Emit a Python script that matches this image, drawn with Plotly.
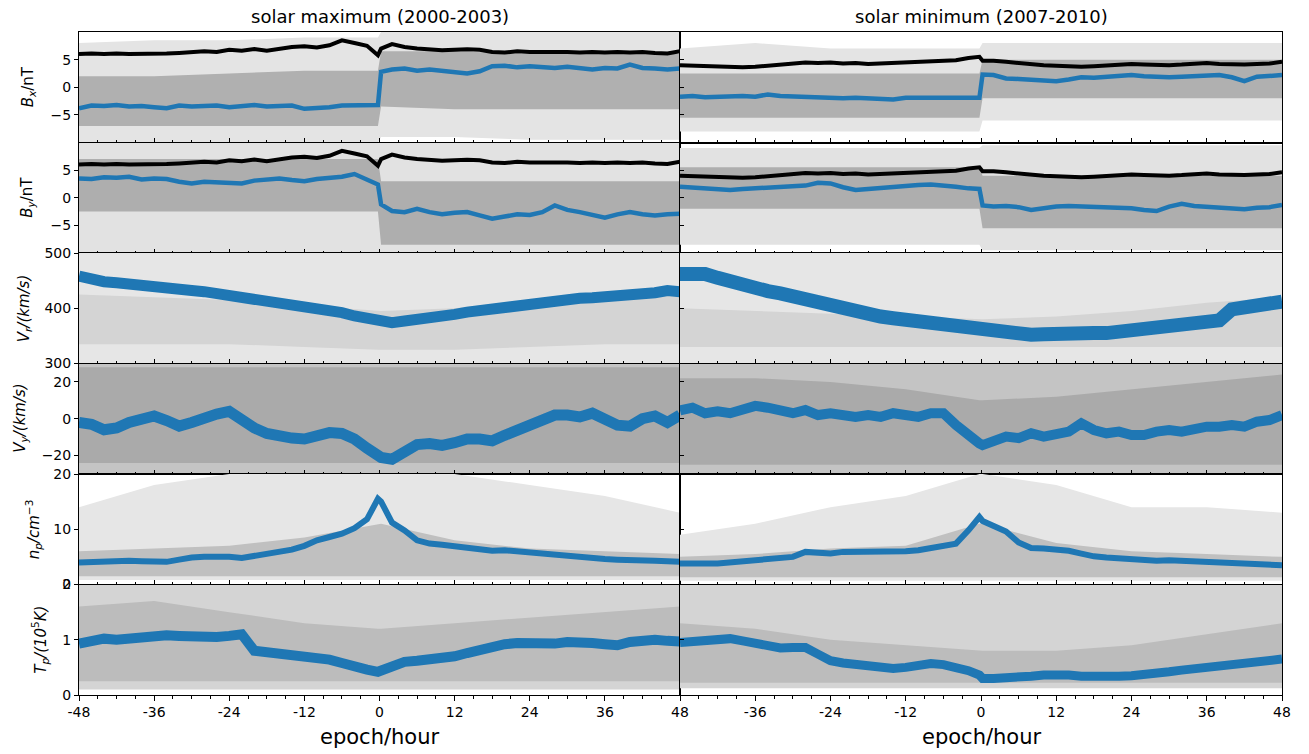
import plotly.graph_objects as go

# ---------------- data ----------------
EPOCH = list(range(-48, -1, 2)) + [-0.25, 0.25] + list(range(2, 49, 2))
BAND_T = [-48, -36, -24, -12, -0.25, 0.25, 12, 24, 36, 48]
X_MAJOR = [-48, -36, -24, -12, 0, 12, 24, 36, 48]
X_LABELS = ["-48", "-36", "-24", "-12", "0", "12", "24", "36", "48"]

# solar maximum (2000-2003)
BMAG_MAX = [6.0, 6.1, 6.0, 6.1, 6.0, 6.0, 6.0, 6.1, 6.2, 6.3, 6.5, 6.4,
            6.8, 6.6, 6.9, 6.6, 6.9, 7.3, 7.4, 7.2, 7.6, 8.5, 8.0, 7.5,
            5.8, 7.0,
            7.8, 7.3, 7.0, 6.8, 6.7, 6.8, 6.9, 6.8, 6.4, 6.3, 6.5, 6.4,
            6.4, 6.5, 6.4, 6.3, 6.4, 6.3, 6.4, 6.3, 6.4, 6.2, 6.1, 6.5]
BX_MAX = [-3.8, -3.3, -3.4, -3.2, -3.5, -3.4, -3.6, -3.8, -3.3, -3.5, -3.4, -3.3,
          -3.6, -3.4, -3.2, -3.5, -3.4, -3.3, -3.9, -3.8, -3.6, -3.3, -3.2, -3.3,
          -3.2, 2.8,
          3.2, 3.4, 3.0, 3.2, 2.9, 2.6, 2.5, 2.9, 3.8, 3.9, 3.6, 3.8,
          3.6, 3.5, 3.7, 3.4, 3.2, 3.5, 3.4, 4.1, 3.5, 3.4, 3.2, 3.4]
BY_MAX = [3.5, 3.4, 3.7, 3.6, 3.8, 3.3, 3.5, 3.4, 2.9, 2.6, 2.9, 2.8,
          2.9, 2.6, 3.1, 3.4, 3.5, 3.2, 3.0, 3.4, 3.6, 3.8, 4.3, 3.4,
          2.4, -1.2,
          -2.4, -2.6, -2.0, -2.6, -3.0, -2.7, -2.6, -3.2, -3.8, -3.4, -3.0, -3.1,
          -2.6, -1.4, -2.2, -2.6, -3.0, -3.6, -3.0, -2.6, -3.0, -3.2, -3.0, -2.9]
VR_MAX = [458, 452, 448, 446, 443, 441, 440, 437, 433, 432, 430, 427,
          424, 421, 418, 414, 411, 408, 404, 399, 396, 392, 386, 381,
          377, 375,
          374, 377, 379, 382, 385, 389, 393, 396, 398, 401, 405, 409,
          413, 415, 417, 418, 419, 420, 421, 423, 426, 428, 432, 430]
VY_MAX = [-2, -3, -6, -5, -2, 0, 1.5, -1, -4, -2, 1, 2.5,
          4, -1, -5, -8, -10, -10.5, -11, -9, -7.5, -8, -11, -16,
          -20, -21,
          -22, -18, -14, -13.5, -14.5, -13, -11, -11, -12, -9, -6, -3,
          0, 2, 2, 1, 3, 0, -3.5, -4, 0, 1.5, -2, 2]
NP_MAX = [4.0, 4.1, 4.2, 4.2, 4.3, 4.2, 4.2, 4.1, 4.5, 4.9, 5.0, 5.1,
          5.0, 4.8, 5.2, 5.6, 5.9, 6.3, 7.0, 8.0, 8.6, 9.2, 10.2, 11.8,
          15.5, 15.0,
          11.2, 9.8, 8.0, 7.4, 7.2, 6.9, 6.6, 6.3, 6.1, 6.2, 6.0, 5.6,
          5.4, 5.2, 5.0, 4.9, 4.8, 4.6, 4.5, 4.5, 4.4, 4.3, 4.2, 4.1]
TP_MAX = [0.93, 0.98, 1.02, 1.0, 1.03, 1.02, 1.08, 1.08, 1.07, 1.05, 1.04, 1.05,
          1.07, 1.1, 0.8, 0.78, 0.76, 0.74, 0.72, 0.68, 0.64, 0.58, 0.5, 0.46,
          0.42, 0.44,
          0.55, 0.6, 0.62, 0.64, 0.67, 0.7, 0.76, 0.82, 0.88, 0.92, 0.94, 0.93,
          0.9, 0.93, 0.96, 0.97, 0.94, 0.92, 0.9, 0.96, 0.99, 1.0, 0.98, 0.97]

# solar minimum (2007-2010)
BMAG_MIN = [4.0, 3.9, 3.8, 3.8, 3.7, 3.6, 3.7, 3.9, 4.0, 4.2, 4.5, 4.4,
            4.5, 4.3, 4.4, 4.2, 4.3, 4.4, 4.5, 4.5, 4.7, 4.8, 4.9, 5.3,
            5.5, 4.8,
            4.8, 4.6, 4.4, 4.1, 4.0, 3.9, 3.8, 3.7, 3.8, 3.9, 4.0, 4.2,
            4.1, 4.0, 4.0, 4.1, 4.3, 4.4, 4.2, 4.1, 4.1, 4.2, 4.3, 4.6]
BX_MIN = [-1.7, -1.6, -1.8, -1.7, -1.7, -1.6, -1.7, -1.3, -1.6, -1.7, -1.8, -1.7,
          -1.8, -2.0, -1.9, -2.0, -2.1, -2.2, -1.9, -2.0, -1.9, -1.9, -1.8, -1.9,
          -1.9, 2.3,
          2.2, 1.6, 1.5, 1.4, 1.2, 1.1, 1.4, 1.8, 1.7, 1.9, 2.1, 2.2,
          2.0, 1.8, 1.8, 1.9, 2.0, 2.1, 2.2, 1.8, 1.1, 1.9, 2.0, 2.2]
BY_MIN = [2.0, 1.9, 1.8, 1.7, 1.4, 1.6, 1.7, 1.7, 1.8, 1.9, 2.2, 2.7,
          2.6, 1.9, 1.4, 1.6, 1.8, 2.1, 2.2, 2.3, 2.4, 2.3, 2.0, 1.7,
          1.6, -1.4,
          -1.6, -1.5, -1.7, -2.2, -1.8, -1.6, -1.5, -1.6, -1.7, -1.8, -1.7, -1.9,
          -2.2, -2.4, -1.6, -1.1, -1.5, -1.6, -1.8, -2.0, -2.1, -1.8, -1.7, -1.3]
VR_MIN = [462, 465, 462, 455, 448, 442, 436, 431, 427, 421, 415, 409,
          403, 398, 394, 389, 385, 382, 379, 376, 373, 370, 368, 364,
          361, 360,
          357, 353, 351, 352, 353, 355, 356, 354, 355, 355, 357, 360,
          362, 364, 367, 372, 372, 370, 378, 398, 403, 406, 409, 412]
VY_MIN = [4.5, 6, 3, 4, 3, 4.7, 7, 6, 4, 3, 4.7, 2,
          3, 2, 1, 2, 1, 3, 2, 1, 3, 3, -3.4, -9.7,
          -13.4, -14.3,
          -12.4, -9.7, -10.5, -7.9, -9.7, -7.9, -7, -2.5, -6.1, -7.9, -7, -8.8,
          -8.8, -7, -6.1, -7, -5.2, -4.3, -4.3, -3.4, -4.3, -1.6, -0.7, 2]
NP_MIN = [3.8, 3.7, 3.8, 3.8, 4.0, 4.1, 4.4, 4.6, 4.8, 5.0, 5.9, 5.8,
          5.6, 5.9, 5.9, 5.9, 6.0, 5.9, 6.0, 6.2, 6.6, 7.0, 7.4, 9.8,
          12.2, 11.5,
          10.6, 9.6, 7.6, 6.6, 6.5, 6.3, 6.1, 5.6, 5.1, 4.9, 4.7, 4.5,
          4.4, 4.3, 4.4, 4.3, 4.2, 4.1, 4.1, 4.0, 3.9, 3.8, 3.7, 3.5]
TP_MIN = [0.95, 0.97, 1.0, 1.02, 1.02, 0.98, 0.94, 0.9, 0.85, 0.86, 0.86, 0.74,
          0.62, 0.58, 0.55, 0.52, 0.49, 0.48, 0.5, 0.53, 0.57, 0.55, 0.5, 0.44,
          0.36, 0.3,
          0.3, 0.3, 0.32, 0.34, 0.36, 0.38, 0.36, 0.34, 0.33, 0.33, 0.34, 0.35,
          0.36, 0.38, 0.42, 0.45, 0.48, 0.5, 0.53, 0.56, 0.58, 0.6, 0.62, 0.65]

# spread of the individual events (grey envelopes) on BAND_T
BX_MAX_OUT_LO = [-10, -10, -10, -10, -10, -9, -9, -9.5, -9.5, -9.5]
BX_MAX_OUT_HI = [8, 8.5, 8.5, 9, 9, 10, 10, 10, 10, 10]
BX_MAX_CORE_LO = [-7, -7, -7, -7, -7, -3.5, -4, -4, -4, -4]
BX_MAX_CORE_HI = [2, 2, 2.5, 3, 3, 6.5, 6.5, 6, 6, 6]
BY_MAX_OUT_LO = [-10, -10, -10, -10, -10, -10, -10, -10, -10, -10]
BY_MAX_OUT_HI = [10, 10, 10, 10, 10, 10, 10, 10, 10, 10]
BY_MAX_CORE_LO = [-2.5, -2.5, -2.5, -2.5, -2.5, -8.5, -8.5, -8.5, -8.5, -8.5]
BY_MAX_CORE_HI = [7, 7, 7, 7, 7, 3, 3, 3, 3, 3]
VR_MAX_OUT_LO = [300, 300, 300, 300, 300, 300, 300, 300, 300, 300]
VR_MAX_OUT_HI = [500, 500, 500, 500, 500, 500, 500, 500, 500, 500]
VR_MAX_CORE_LO = [335, 335, 335, 330, 325, 325, 325, 330, 335, 335]
VR_MAX_CORE_HI = [425, 420, 415, 405, 395, 395, 400, 415, 425, 430]
VY_MAX_OUT_LO = [-30, -30, -30, -30, -30, -30, -30, -30, -30, -30]
VY_MAX_OUT_HI = [30, 30, 30, 30, 30, 30, 30, 30, 30, 30]
VY_MAX_CORE_LO = [-24, -24, -24, -24, -24, -24, -24, -24, -24, -24]
VY_MAX_CORE_HI = [28, 28, 28, 28, 28, 28, 28, 28, 28, 28]
NP_MAX_OUT_LO = [0.8, 0.8, 0.8, 0.8, 0.8, 0.8, 0.8, 0.8, 0.8, 0.8]
NP_MAX_OUT_HI = [14, 18, 20, 20, 20, 20, 20, 18, 16, 13]
NP_MAX_CORE_LO = [1.5, 1.5, 1.5, 1.5, 1.5, 1.5, 1.5, 1.5, 1.5, 1.5]
NP_MAX_CORE_HI = [6, 6.5, 7, 8.5, 11, 11, 8, 6.5, 6, 5.5]
TP_MAX_OUT_LO = [0.1, 0.1, 0.1, 0.1, 0.1, 0.1, 0.1, 0.1, 0.1, 0.1]
TP_MAX_OUT_HI = [2, 2, 2, 2, 2, 2, 2, 2, 2, 2]
TP_MAX_CORE_LO = [0.25, 0.25, 0.25, 0.25, 0.25, 0.25, 0.25, 0.25, 0.25, 0.25]
TP_MAX_CORE_HI = [1.6, 1.7, 1.5, 1.3, 1.2, 1.2, 1.3, 1.4, 1.5, 1.6]

BX_MIN_OUT_LO = [-8, -8, -8, -8, -8, -6, -6, -6, -6, -6]
BX_MIN_OUT_HI = [7, 8, 7, 7, 7, 8, 8, 8, 8, 8]
BX_MIN_CORE_LO = [-5.5, -5.5, -5.5, -5.5, -5.5, -2, -2, -2, -2, -2]
BX_MIN_CORE_HI = [2.5, 2.5, 2.5, 2.5, 2.5, 5, 5, 5, 5, 5]
BY_MIN_OUT_LO = [-8.5, -8.5, -8.5, -8.5, -8.5, -9.5, -9.5, -9.5, -9.5, -9.5]
BY_MIN_OUT_HI = [9, 9, 9, 9, 9, 9.5, 9.5, 9.5, 9.5, 9.5]
BY_MIN_CORE_LO = [-2, -2, -2, -2, -2, -5.5, -5.5, -5.5, -5.5, -5.5]
BY_MIN_CORE_HI = [5.5, 5.5, 5.5, 5.5, 5.5, 4, 4, 4, 4, 4]
VR_MIN_OUT_LO = [300, 300, 300, 300, 300, 300, 300, 300, 300, 300]
VR_MIN_OUT_HI = [500, 500, 500, 500, 500, 500, 500, 500, 500, 500]
VR_MIN_CORE_LO = [330, 330, 330, 330, 330, 330, 330, 330, 330, 330]
VR_MIN_CORE_HI = [400, 395, 390, 385, 380, 380, 385, 395, 410, 420]
VY_MIN_OUT_LO = [-30, -30, -30, -30, -30, -30, -30, -30, -30, -30]
VY_MIN_OUT_HI = [30, 30, 30, 30, 30, 30, 30, 30, 30, 30]
VY_MIN_CORE_LO = [-25, -25, -25, -25, -25, -25, -25, -25, -25, -25]
VY_MIN_CORE_HI = [22, 22, 20, 16, 10, 10, 12, 16, 20, 24]
NP_MIN_OUT_LO = [0.7, 0.7, 0.7, 0.7, 0.7, 0.7, 0.7, 0.7, 0.7, 0.7]
NP_MIN_OUT_HI = [9, 11, 14, 16, 20, 20, 18, 14, 14, 13]
NP_MIN_CORE_LO = [1.3, 1.3, 1.3, 1.3, 1.3, 1.3, 1.3, 1.3, 1.3, 1.3]
NP_MIN_CORE_HI = [5, 5.5, 6.5, 7, 11, 11, 7.5, 6, 5.5, 5]
TP_MIN_OUT_LO = [0.12, 0.12, 0.12, 0.12, 0.12, 0.12, 0.12, 0.12, 0.12, 0.12]
TP_MIN_OUT_HI = [2, 2, 2, 2, 2, 2, 2, 2, 2, 2]
TP_MIN_CORE_LO = [0.22, 0.22, 0.22, 0.22, 0.22, 0.22, 0.22, 0.22, 0.22, 0.22]
TP_MIN_CORE_HI = [1.3, 1.2, 1.0, 0.9, 0.8, 0.8, 0.8, 0.9, 1.1, 1.3]

COLUMN_TITLES = ["solar maximum (2000-2003)", "solar minimum (2007-2010)"]
ROW_LABELS = ["<i>B</i><sub><i>x</i></sub>/nT",
              "<i>B</i><sub><i>y</i></sub>/nT",
              "<i>V</i><sub><i>r</i></sub><i>/(km/s)</i>",
              "<i>V</i><sub><i>y</i></sub><i>/(km/s)</i>",
              "<i>n</i><sub><i>p</i></sub><i>/cm</i><sup>−3</sup>",
              "<i>T</i><sub><i>p</i></sub><i>/(10</i><sup>5</sup><i>K)</i>"]
Y_RANGES = [[-10, 10], [-10, 10], [300, 500], [-30, 30], [0, 20], [0, 2]]
Y_TICKS = [[-5, 0, 5], [-5, 0, 5], [300, 400, 500], [-20, 0, 20], [0, 10, 20], [0, 1, 2]]

# ---------------- styling / layout ----------------
W, H = 1309, 754
X_EDGES = [79, 680, 1282]
Y_EDGES = [32, 142.5, 253, 363.5, 474, 584.5, 695]
LABEL_X = [28, 28, 24, 21, 33, 40]
BLUE = "#1f77b4"
FONT = "DejaVu Sans"
OUT_COLORS = ["rgb(228,228,228)", "rgb(226,226,226)", "rgb(230,230,230)",
              "rgb(196,196,196)", "rgb(230,230,230)", "rgb(212,212,212)"]
CORE_COLORS = ["rgb(176,176,176)", "rgb(174,174,174)", "rgb(212,212,212)",
               "rgb(170,170,170)", "rgb(192,192,192)", "rgb(188,188,188)"]
BLUE_WIDTHS = [[4.5, 4.5, 11, 11, 6, 10], [4.5, 4.5, 14, 10, 6, 9]]

COLS = [
    dict(mag=BMAG_MAX, series=[BX_MAX, BY_MAX, VR_MAX, VY_MAX, NP_MAX, TP_MAX],
         bands=[(BX_MAX_OUT_LO, BX_MAX_OUT_HI, BX_MAX_CORE_LO, BX_MAX_CORE_HI),
                (BY_MAX_OUT_LO, BY_MAX_OUT_HI, BY_MAX_CORE_LO, BY_MAX_CORE_HI),
                (VR_MAX_OUT_LO, VR_MAX_OUT_HI, VR_MAX_CORE_LO, VR_MAX_CORE_HI),
                (VY_MAX_OUT_LO, VY_MAX_OUT_HI, VY_MAX_CORE_LO, VY_MAX_CORE_HI),
                (NP_MAX_OUT_LO, NP_MAX_OUT_HI, NP_MAX_CORE_LO, NP_MAX_CORE_HI),
                (TP_MAX_OUT_LO, TP_MAX_OUT_HI, TP_MAX_CORE_LO, TP_MAX_CORE_HI)]),
    dict(mag=BMAG_MIN, series=[BX_MIN, BY_MIN, VR_MIN, VY_MIN, NP_MIN, TP_MIN],
         bands=[(BX_MIN_OUT_LO, BX_MIN_OUT_HI, BX_MIN_CORE_LO, BX_MIN_CORE_HI),
                (BY_MIN_OUT_LO, BY_MIN_OUT_HI, BY_MIN_CORE_LO, BY_MIN_CORE_HI),
                (VR_MIN_OUT_LO, VR_MIN_OUT_HI, VR_MIN_CORE_LO, VR_MIN_CORE_HI),
                (VY_MIN_OUT_LO, VY_MIN_OUT_HI, VY_MIN_CORE_LO, VY_MIN_CORE_HI),
                (NP_MIN_OUT_LO, NP_MIN_OUT_HI, NP_MIN_CORE_LO, NP_MIN_CORE_HI),
                (TP_MIN_OUT_LO, TP_MIN_OUT_HI, TP_MIN_CORE_LO, TP_MIN_CORE_HI)]),
]


def px(x):
    return x / W


def py(y):
    return 1 - y / H


fig = go.Figure()
layout = dict(width=W, height=H, margin=dict(l=0, r=0, t=0, b=0, autoexpand=False),
              paper_bgcolor="white", plot_bgcolor="white", showlegend=False,
              font=dict(family=FONT, size=14, color="black"))
annotations = []

for c, col in enumerate(COLS):
    for r in range(6):
        k = r * 2 + c + 1
        xa = "x" if k == 1 else f"x{k}"
        ya = "y" if k == 1 else f"y{k}"
        out_lo, out_hi, core_lo, core_hi = col["bands"][r]
        poly_x = BAND_T + BAND_T[::-1]
        fig.add_trace(go.Scatter(x=poly_x, y=out_hi + out_lo[::-1], fill="toself",
                                 fillcolor=OUT_COLORS[r], line=dict(width=0),
                                 mode="lines", hoverinfo="skip", xaxis=xa, yaxis=ya))
        fig.add_trace(go.Scatter(x=poly_x, y=core_hi + core_lo[::-1], fill="toself",
                                 fillcolor=CORE_COLORS[r], line=dict(width=0),
                                 mode="lines", hoverinfo="skip", xaxis=xa, yaxis=ya))
        if r < 2:
            fig.add_trace(go.Scatter(x=EPOCH, y=col["mag"], mode="lines",
                                     line=dict(color="black", width=4),
                                     xaxis=xa, yaxis=ya))
        fig.add_trace(go.Scatter(x=EPOCH, y=col["series"][r], mode="lines",
                                 line=dict(color=BLUE, width=BLUE_WIDTHS[c][r]),
                                 xaxis=xa, yaxis=ya))

        bottom = r == 5
        tvals = X_MAJOR if c == 0 else X_MAJOR[1:]
        ttext = X_LABELS if c == 0 else X_LABELS[1:]
        tdir = "outside" if bottom else "inside"
        layout["xaxis" if k == 1 else f"xaxis{k}"] = dict(
            domain=[px(X_EDGES[c]), px(X_EDGES[c + 1])], anchor=ya,
            range=[-48, 48], tickmode="array", tickvals=tvals, ticktext=ttext,
            showticklabels=bottom, ticks=tdir, ticklen=4.5, tickcolor="black",
            minor=dict(tick0=0, dtick=3, ticks=tdir, ticklen=2.5, tickcolor="black"),
            showline=True, linecolor="black", linewidth=1, mirror=True,
            showgrid=False, zeroline=False, tickfont=dict(size=14))
        layout["yaxis" if k == 1 else f"yaxis{k}"] = dict(
            domain=[py(Y_EDGES[r + 1]), py(Y_EDGES[r])], anchor=xa,
            range=Y_RANGES[r], tickmode="array", tickvals=Y_TICKS[r],
            showticklabels=(c == 0), ticks="outside" if c == 0 else "inside",
            ticklen=4, tickcolor="black",
            showline=True, linecolor="black", linewidth=1, mirror=True,
            showgrid=False, zeroline=False, tickfont=dict(size=14))

    annotations.append(dict(text=COLUMN_TITLES[c], xref="paper", yref="paper",
                            x=px((X_EDGES[c] + X_EDGES[c + 1]) / 2), y=py(16),
                            xanchor="center", yanchor="middle", showarrow=False,
                            font=dict(size=18)))
    annotations.append(dict(text="epoch/hour", xref="paper", yref="paper",
                            x=px((X_EDGES[c] + X_EDGES[c + 1]) / 2), y=py(737),
                            xanchor="center", yanchor="middle", showarrow=False,
                            font=dict(size=21)))

for r in range(6):
    annotations.append(dict(text=ROW_LABELS[r], xref="paper", yref="paper",
                            x=px(LABEL_X[r]), y=py((Y_EDGES[r] + Y_EDGES[r + 1]) / 2),
                            xanchor="center", yanchor="middle", textangle=-90,
                            showarrow=False, font=dict(size=15)))

layout["annotations"] = annotations
fig.update_layout(**layout)
fig.write_html("out.html")
